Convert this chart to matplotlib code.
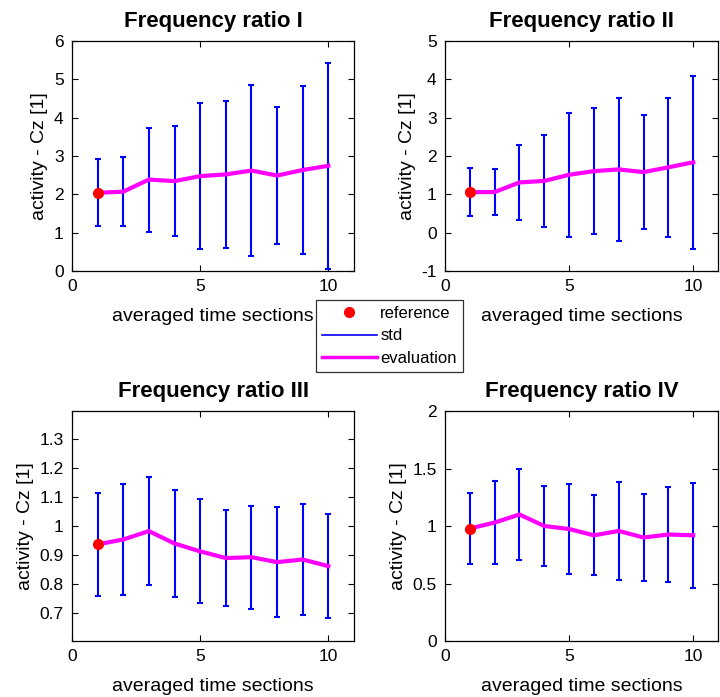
import matplotlib
matplotlib.use("Agg")
import matplotlib.pyplot as plt
from matplotlib.lines import Line2D
import numpy as np

plt.rcParams['font.family'] = ['Liberation Sans', 'DejaVu Sans']
plt.rcParams['axes.unicode_minus'] = False

sections = [1, 2, 3, 4, 5, 6, 7, 8, 9, 10]
titles = ["Frequency ratio I", "Frequency ratio II", "Frequency ratio III", "Frequency ratio IV"]

mean_I = [2.04, 2.07, 2.385, 2.345, 2.475, 2.52, 2.62, 2.49, 2.635, 2.745]
std_I = [0.87, 0.905, 1.355, 1.425, 1.905, 1.91, 2.23, 1.78, 2.185, 2.685]

mean_II = [1.055, 1.06, 1.31, 1.35, 1.51, 1.605, 1.65, 1.58, 1.705, 1.835]
std_II = [0.625, 0.59, 0.985, 1.21, 1.62, 1.635, 1.87, 1.48, 1.815, 2.265]

mean_III = [0.935, 0.952, 0.981, 0.938, 0.911, 0.888, 0.891, 0.874, 0.883, 0.860]
std_III = [0.179, 0.191, 0.187, 0.186, 0.179, 0.165, 0.177, 0.1885, 0.193, 0.1795]

mean_IV = [0.978, 1.03, 1.10, 1.00, 0.974, 0.919, 0.957, 0.90, 0.926, 0.919]
std_IV = [0.312, 0.364, 0.398, 0.35, 0.388, 0.348, 0.429, 0.374, 0.413, 0.455]

ylims = [(0, 6), (-1, 5), (0.602, 1.395), (0, 2)]
yticks = [[0, 1, 2, 3, 4, 5, 6], [-1, 0, 1, 2, 3, 4, 5],
          [0.7, 0.8, 0.9, 1.0, 1.1, 1.2, 1.3], [0, 0.5, 1, 1.5, 2]]
yticklabels = [None, None, ["0.7", "0.8", "0.9", "1", "1.1", "1.2", "1.3"],
               ["0", "0.5", "1", "1.5", "2"]]

means = [mean_I, mean_II, mean_III, mean_IV]
stds = [std_I, std_II, std_III, std_IV]

W, H = 720, 697
fig = plt.figure(figsize=(W / 100, H / 100), dpi=100)

# axes pixel boxes: left, top, right, bottom
boxes = [(72, 41, 354, 271), (445, 41, 718, 271),
         (72, 411, 354, 641), (445, 411, 718, 641)]

for i in range(4):
    l, t, r, b = boxes[i]
    ax = fig.add_axes([l / W, 1 - b / H, (r - l) / W, (b - t) / H])
    x = np.array(sections)
    m = np.array(means[i])
    s = np.array(stds[i])
    ax.errorbar(x, m, yerr=s, fmt='none', ecolor='#0000ff', elinewidth=1.5,
                capsize=2, capthick=1.5, zorder=2)
    ax.plot(x, m, color='#ff00ff', lw=3, zorder=3)
    ax.plot([x[0]], [m[0]], 'o', color='#ff0000', ms=7, zorder=4)
    ax.set_xlim(0, 11)
    ax.set_ylim(*ylims[i])
    ax.set_xticks([0, 5, 10])
    ax.set_yticks(yticks[i])
    if yticklabels[i] is not None:
        ax.set_yticklabels(yticklabels[i])
    ax.tick_params(direction='in', top=True, right=True, labelsize=12.5,
                   length=4, width=0.8, pad=6)
    ax.set_title(titles[i], fontsize=16, fontweight='bold', pad=10)
    ax.set_xlabel("averaged time sections", fontsize=14, labelpad=10)
    ax.set_ylabel("activity - Cz [1]", fontsize=14, labelpad=4)
    for sp in ax.spines.values():
        sp.set_linewidth(0.9)

handles = [Line2D([], [], marker='o', color='#ff0000', ls='none', ms=7),
           Line2D([], [], color='#0000ff', lw=1.2),
           Line2D([], [], color='#ff00ff', lw=2.5)]
leg = fig.legend(handles, ["reference", "std", "evaluation"],
                 loc='upper left', bbox_to_anchor=(316 / W, 1 - 300 / H),
                 fontsize=12, frameon=True, fancybox=False, borderpad=0.35,
                 handlelength=3.3, labelspacing=0.45, handletextpad=0.2,
                 borderaxespad=0)
leg.get_frame().set_edgecolor('black')
leg.get_frame().set_linewidth(0.9)

fig.savefig("out.png", dpi=100)
